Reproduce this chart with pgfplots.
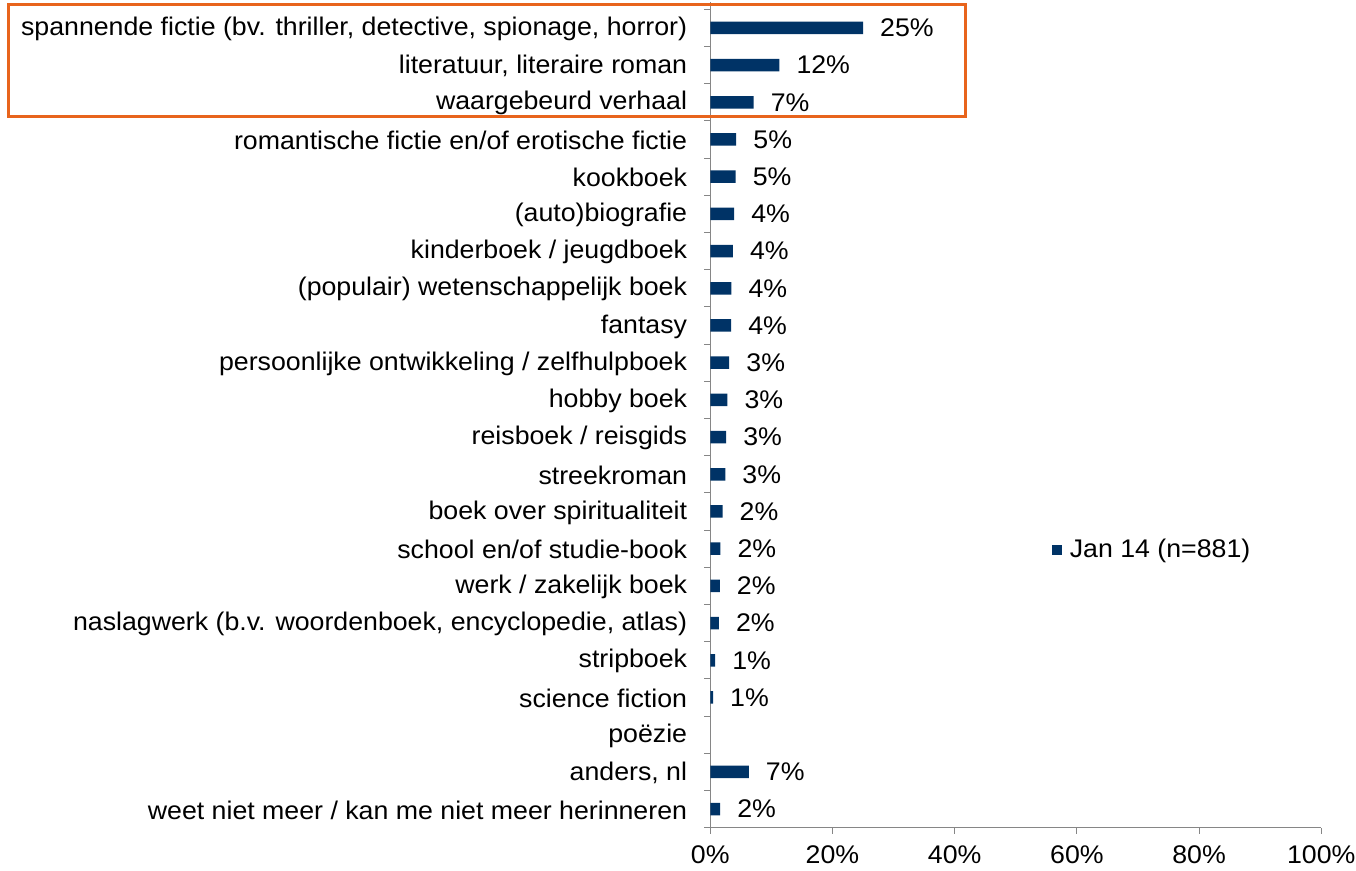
\documentclass[border=0pt]{standalone}
\usepackage{fontspec}
\setmainfont{Liberation Sans}[FakeStretch=1.048]
\usepackage{pgfplots}
\pgfplotsset{compat=1.18}
\definecolor{barblue}{RGB}{0,51,102}
\definecolor{hiorange}{RGB}{232,100,28}
\definecolor{axgray}{RGB}{134,134,134}
\begin{document}
\fontsize{25.5}{30}\selectfont
\begin{tikzpicture}
\begin{axis}[
  scale only axis, width=611pt, height=825.8pt,
  xmin=0, xmax=100, ymin=-0.5, ymax=21.7,
  xbar, bar width=12.5pt,
  clip=false,
  axis x line*=bottom, axis y line*=left,
  axis line style={axgray, line width=1pt},
  /pgf/number format/assume math mode=true,
  tick label style={font=\fontsize{25.5}{30}\selectfont, black},
  tick align=outside,
  major tick length=6pt,
  xtick style={draw=axgray, line width=1pt},
  ytick style={draw=axgray, line width=1pt},
  xtick={0,20,...,100},
  xticklabel={\pgfmathprintnumber{\tick}\%},
  xticklabel style={inner sep=0pt, yshift=-12pt},
  ytick={-0.5,0.5,...,21.5},
  yticklabels={},
  extra y ticks={0,...,21},
  extra y tick style={major tick length=0pt, yticklabel style={inner sep=0pt, xshift=-23pt, yshift=-1pt}},
  extra y tick labels={
    {weet niet meer / kan me niet meer herinneren},
    {anders, nl},
    {poëzie},
    {science fiction},
    {stripboek},
    {naslagwerk (b.v. woordenboek, encyclopedie, atlas)},
    {werk / zakelijk boek},
    {school en/of studie-book},
    {boek over spiritualiteit},
    {streekroman},
    {reisboek / reisgids},
    {hobby boek},
    {persoonlijke ontwikkeling / zelfhulpboek},
    {fantasy},
    {(populair) wetenschappelijk boek},
    {kinderboek / jeugdboek},
    {(auto)biografie},
    {kookboek},
    {romantische fictie en/of erotische fictie},
    {waargebeurd verhaal},
    {literatuur, literaire roman},
    {spannende fictie (bv. thriller, detective, spionage, horror)}
  },
  point meta=explicit symbolic,
  nodes near coords={\pgfplotspointmeta\%},
  every node near coord/.append style={anchor=west, inner sep=0pt, xshift=17pt,
    font=\fontsize{25.5}{30}\selectfont, black},
  legend style={at={(axis cs:55.9,6.97)}, anchor=west, draw=none, fill=none,
    inner sep=0pt, outer sep=0pt, font=\fontsize{25.5}{30}\selectfont,
    /tikz/every odd column/.append style={column sep=6pt}},
]
% poëzie (y=2) has 0%: no bar, no label
\addplot[fill=barblue, draw=none,
  legend image code/.code={\fill[barblue] (0pt,-5pt) rectangle (10pt,5pt);}]
  coordinates {
  (25.0,21) [25]
  (11.3,20) [12]
  (7.1,19) [7]
  (4.25,18) [5]
  (4.15,17) [5]
  (3.9,16) [4]
  (3.7,15) [4]
  (3.45,14) [4]
  (3.4,13) [4]
  (3.1,12) [3]
  (2.8,11) [3]
  (2.6,10) [3]
  (2.45,9) [3]
  (2.0,8) [2]
  (1.65,7) [2]
  (1.55,6) [2]
  (1.4,5) [2]
  (0.8,4) [1]
  (0.45,3) [1]
  (6.3,1) [7]
  (1.6,0) [2]
};
\addlegendentry{Jan 14 (n=881)}
\draw[hiorange, line width=3pt] (axis cs:-114.9,21.64) rectangle (axis cs:41.85,18.61);
\path (axis cs:-116.25,-1.664) rectangle (axis cs:105.68,21.75);
\end{axis}
\end{tikzpicture}
\end{document}
